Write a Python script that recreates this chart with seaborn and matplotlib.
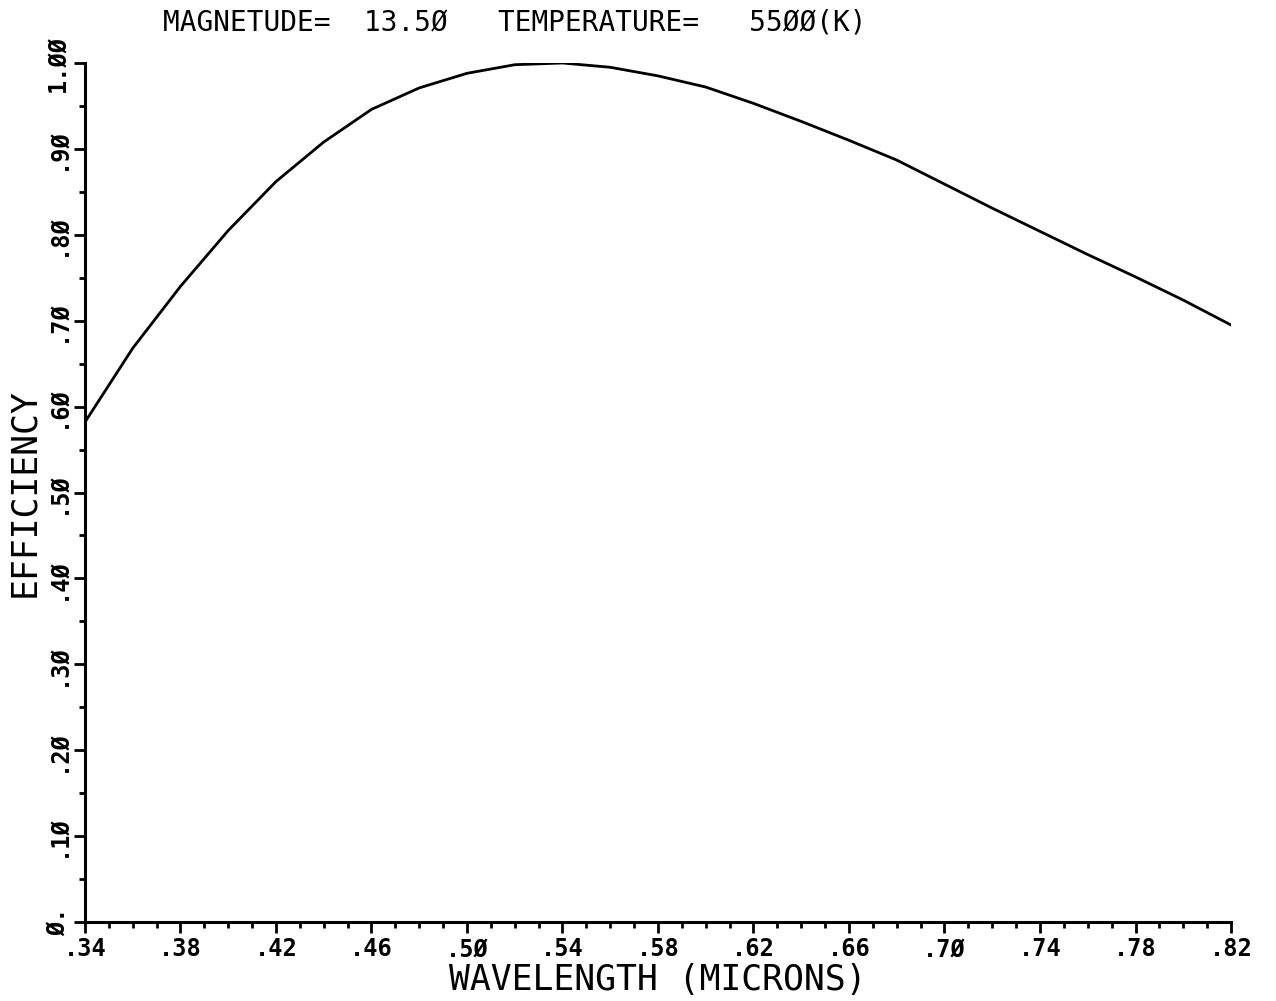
import numpy as np
import pandas as pd
import matplotlib
matplotlib.use("Agg")
import matplotlib.pyplot as plt
import seaborn as sns
from matplotlib.ticker import MultipleLocator, FixedLocator

# ---- data ----
wavelength = [0.34, 0.36, 0.38, 0.40, 0.42, 0.44, 0.46, 0.48, 0.50, 0.52, 0.54,
              0.56, 0.58, 0.60, 0.62, 0.64, 0.66, 0.68, 0.70, 0.72, 0.74, 0.76,
              0.78, 0.80, 0.82]
efficiency = [0.582, 0.668, 0.740, 0.805, 0.862, 0.908, 0.946, 0.971, 0.988, 0.998, 1.000,
              0.995, 0.985, 0.972, 0.953, 0.932, 0.910, 0.887, 0.859, 0.831, 0.804, 0.777,
              0.751, 0.724, 0.695]
x_ticks = [0.34, 0.38, 0.42, 0.46, 0.50, 0.54, 0.58, 0.62, 0.66, 0.70, 0.74, 0.78, 0.82]
x_tick_labels = [".34", ".38", ".42", ".46", ".5Ø", ".54", ".58", ".62", ".66", ".7Ø",
                 ".74", ".78", ".82"]
y_ticks = [0.0, 0.1, 0.2, 0.3, 0.4, 0.5, 0.6, 0.7, 0.8, 0.9, 1.0]
y_tick_labels = ["Ø.", ".1Ø", ".2Ø", ".3Ø", ".4Ø", ".5Ø", ".6Ø", ".7Ø", ".8Ø", ".9Ø", "1.ØØ"]
title_text = "MAGNETUDE=  13.5Ø   TEMPERATURE=   55ØØ(K)"
x_label = "WAVELENGTH (MICRONS)"
y_label = "EFFICIENCY"

df = pd.DataFrame({"wavelength": wavelength, "efficiency": efficiency})

sns.set_style("ticks")
plt.rcParams["font.family"] = ["DejaVu Sans Mono"]
plt.rcParams["text.color"] = "black"
plt.rcParams["xtick.color"] = "black"
plt.rcParams["ytick.color"] = "black"
plt.rcParams["axes.labelcolor"] = "black"

fig = plt.figure(figsize=(12.76, 10.01), dpi=100)
ax = fig.add_axes([85 / 1276, 1 - 922 / 1001, (1231 - 85) / 1276, (922 - 63) / 1001])

sns.lineplot(data=df, x="wavelength", y="efficiency", ax=ax, color="black",
             linewidth=2.0)

ax.set_xlim(0.34, 0.82)
ax.set_ylim(0.0, 1.0)
sns.despine(ax=ax)
for s in ["left", "bottom"]:
    ax.spines[s].set_linewidth(2.2)
    ax.spines[s].set_color("black")

ax.xaxis.set_major_locator(FixedLocator(x_ticks))
ax.set_xticklabels(x_tick_labels, fontsize=17, fontweight="bold")
ax.xaxis.set_minor_locator(MultipleLocator(0.01))
ax.yaxis.set_major_locator(FixedLocator(y_ticks))
ax.set_yticklabels(y_tick_labels, fontsize=17, fontweight="bold", rotation=90,
                   va="center")
ax.yaxis.set_minor_locator(MultipleLocator(0.05))

ax.tick_params(axis="both", which="major", direction="out", length=8, width=2,
               color="black", pad=3)
ax.tick_params(axis="both", which="minor", direction="out", length=4, width=2,
               color="black")

ax.set_xlabel(x_label, fontsize=25, labelpad=1)
ax.set_ylabel(y_label, fontsize=25, labelpad=3)

fig.text(163 / 1276, 1 - 22 / 1001, title_text, fontsize=20,
         ha="left", va="center")

fig.savefig("out.png", dpi=100, facecolor="white")
